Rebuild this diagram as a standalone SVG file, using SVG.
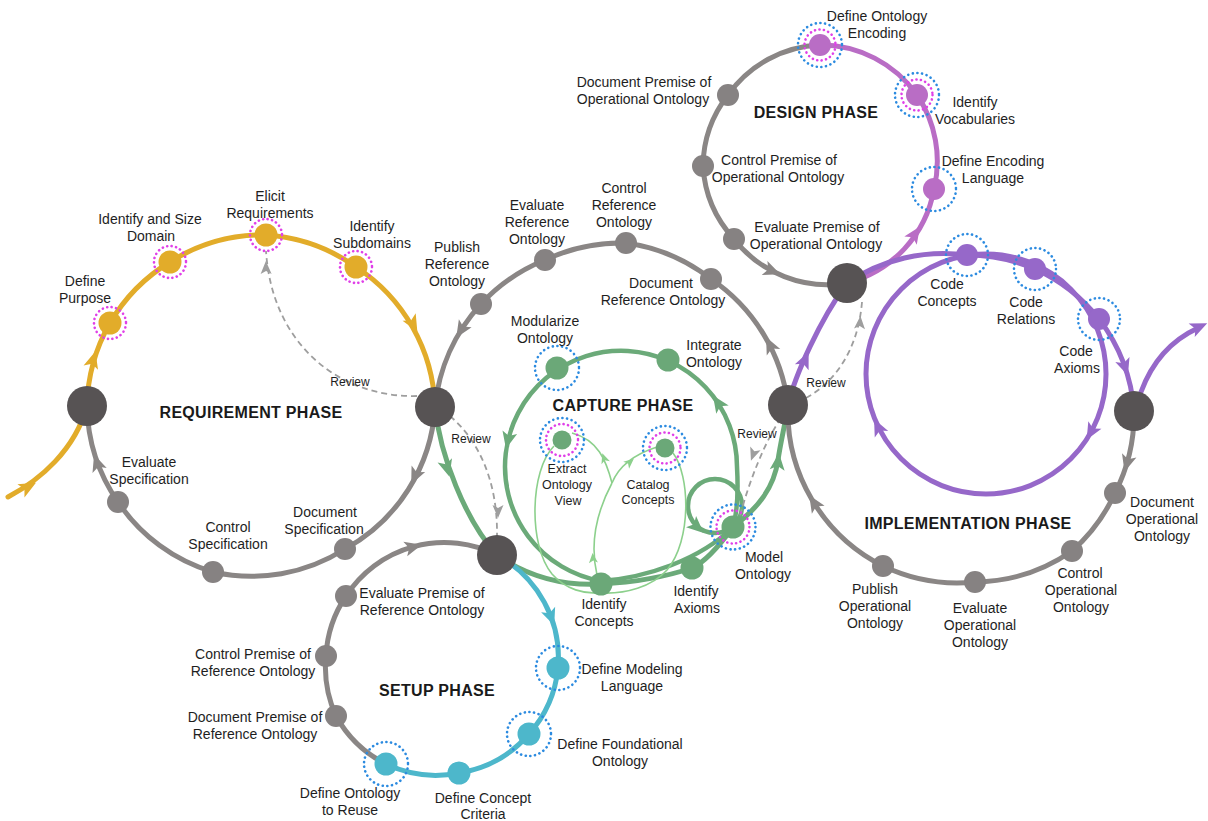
<svg xmlns="http://www.w3.org/2000/svg" xmlns:xlink="http://www.w3.org/1999/xlink" width="1208" height="821" viewBox="0 0 1208 821">
<style>
.t{font-family:"Liberation Sans",Arial,sans-serif;font-size:14px;fill:#1e1e1e;text-anchor:middle}
.ts{font-family:"Liberation Sans",Arial,sans-serif;font-size:12.5px;fill:#1e1e1e;text-anchor:middle}
.tr{font-family:"Liberation Sans",Arial,sans-serif;font-size:12px;fill:#1e1e1e;text-anchor:middle}
.ttl{font-family:"Liberation Sans",Arial,sans-serif;font-size:16px;font-weight:bold;letter-spacing:0.3px;fill:#1a1a1a;text-anchor:middle}
.ln{fill:none;stroke-width:5;stroke-linecap:round}
.ly{stroke:#E2AC2A}.lg{stroke:#8A8685}.lgr{stroke:#6BAA79}.lt{stroke:#4DB7CB}.lp{stroke:#B96DC5}.li{stroke:#9668C9}
.thin{fill:none;stroke:#8CD08C;stroke-width:1.6}
.dash{fill:none;stroke:#9E9E9E;stroke-width:1.8;stroke-dasharray:6 4}
.ay{fill:#E2AC2A}.ag{fill:#8A8685}.agr{fill:#6BAA79}.at{fill:#4DB7CB}.ap{fill:#B96DC5}.ai{fill:#9668C9}.ath{fill:#8CD08C}.ad{fill:#9E9E9E}
.big{fill:#575354}
.ng{fill:#868282}.ny{fill:#E2AC2A}.ngr{fill:#6BA878}.nt{fill:#4DB7CB}.np{fill:#B96DC5}.ni{fill:#9668C9}
.rb{fill:none;stroke:#2C8BE0;stroke-width:2.6;stroke-linecap:round;stroke-dasharray:0.1 4.6}
.rm{fill:none;stroke:#E040E8;stroke-width:2.6;stroke-linecap:round;stroke-dasharray:0.1 4.4}
</style>
<defs>
<path id="ah" d="M9,0 L-8,-7.5 L-4,0 L-8,7.5 Z"/>
<path id="ahm" d="M6,0 L-7,-5.5 L-4,0 L-7,5.5 Z"/>
<path id="ahs" d="M5,0 L-5,-4.5 L-2.5,0 L-5,4.5 Z"/>
</defs>

<g id="connectors">
  <!-- Requirement phase -->
  <path class="ln ly" d="M8,497 C40,480 75,450 87,406"/>
  <path class="ln ly" d="M87,406 A174 174 0 0 1 110,323 A174 174 0 0 1 170,262 A174 174 0 0 1 266,235 A174 174 0 0 1 356,267 A174 174 0 0 1 435,407"/>
  <path class="ln lg" d="M435,407 A174 174 0 0 1 345,549 A174 174 0 0 1 213,572 A174 174 0 0 1 118,502 A174 174 0 0 1 87,406"/>
  <!-- Reference (upper) -->
  <path class="ln lg" d="M788,405 A178 178 0 0 0 711,279 A178 178 0 0 0 626,243 A178 178 0 0 0 545,260 A178 178 0 0 0 481,304 A178 178 0 0 0 435,407"/>
  <!-- Outer green -->
  <path class="ln lgr" d="M435,407 C440,455 465,520 497,555 C530,578 565,586 601,584 C640,582 668,576 692,568 C705,562 720,545 733,527 C758,508 774,488 778,460 C781,440 785,425 788,405"/>
  <!-- Capture loop -->
  <path class="ln lgr" style="stroke-width:4.5" d="M737,467 A116 116 0 1 0 601,581 C645,578 700,560 733,527 C738,510 738,485 737,467 Z"/>
  <circle class="ln lgr" style="stroke-width:4.5" cx="715" cy="506" r="27"/>
  <!-- thin capture -->
  <path class="thin" d="M597,575 C590,545 595,515 612,483"/>
  <path class="thin" d="M612,483 C606,460 598,440 572,433"/>
  <path class="thin" d="M612,483 C618,468 632,455 657,447"/>
  <path class="thin" d="M554,446 C530,470 528,545 552,574 C566,590 585,594 600,593"/>
  <path class="thin" d="M673,453 C690,475 692,540 667,570 C652,587 625,594 602,593"/>
  <!-- Setup -->
  <path class="ln lt" d="M497,555 A117 117 0 0 1 558,668 A117 117 0 0 1 529,734 A117 117 0 0 1 459,773 A117 117 0 0 1 386,764"/>
  <path class="ln lg" d="M386,764 A117 117 0 0 1 336,716 A117 117 0 0 1 326,656 A117 117 0 0 1 346,596 A117 117 0 0 1 497,555"/>
  <!-- Design -->
  <path class="ln lp" d="M847,283 A118 118 0 0 0 934,189 A118 118 0 0 0 917,95 A118 118 0 0 0 820,45"/>
  <path class="ln lg" d="M820,45 A118 118 0 0 0 728,95 A118 118 0 0 0 703,166 A118 118 0 0 0 734,239 A118 118 0 0 0 847,283"/>
  <!-- Implementation -->
  <path class="ln lg" d="M1134,411 A173 173 0 0 1 1115,493 A173 173 0 0 1 1072,551 A173 173 0 0 1 975,582 A173 173 0 0 1 883,566 A173 173 0 0 1 788,405"/>
  <path class="ln li" d="M788,405 C795,375 820,320 847,283 A173 173 0 0 1 967,255 A173 173 0 0 1 1035,269 A173 173 0 0 1 1099,319 A173 173 0 0 1 1134,411"/>
  <circle class="ln li" cx="986" cy="374" r="120"/>
  <path class="ln li" d="M1141,392 C1152,362 1172,340 1198,328"/>
  <!-- Reviews -->
  <path class="dash" d="M417,396 C340,398 272,345 266,251"/>
  <path class="dash" d="M450,416 C478,440 498,480 497,537"/>
  <path class="dash" d="M781,418 C766,440 750,478 740,516"/>
  <path class="dash" d="M806,398 C835,382 858,350 862,302"/>
  <!-- arrowheads -->
  <use xlink:href="#ah" class="ay" transform="translate(28,487) rotate(-28)"/>
  <use xlink:href="#ah" class="ay" transform="translate(93,360) rotate(-74)"/>
  <use xlink:href="#ah" class="ay" transform="translate(413,324) rotate(61)"/>
  <use xlink:href="#ah" class="ag" transform="translate(415,476) rotate(115)"/>
  <use xlink:href="#ah" class="ag" transform="translate(97,463) rotate(-109)"/>
  <use xlink:href="#ah" class="ag" transform="translate(770,345) rotate(-116)"/>
  <use xlink:href="#ah" class="ag" transform="translate(461,330) rotate(122)"/>
  <use xlink:href="#ah" class="agr" transform="translate(447,468) rotate(74)"/>
  <use xlink:href="#ah" class="agr" transform="translate(778,462) rotate(-84)"/>
  <use xlink:href="#ah" class="agr" transform="translate(508,440) rotate(103)"/>
  <use xlink:href="#ah" class="agr" transform="translate(718,403) rotate(-124)"/>
  <use xlink:href="#ah" class="agr" transform="translate(697,527) rotate(42)"/>
  <use xlink:href="#ahs" class="ath" transform="translate(593,558) rotate(-95)"/>
  <use xlink:href="#ahs" class="ath" transform="translate(604,458) rotate(-110)"/>
  <use xlink:href="#ahs" class="ath" transform="translate(630,462) rotate(-40)"/>
  <use xlink:href="#ah" class="ag" transform="translate(413,547) rotate(-15)"/>
  <use xlink:href="#ah" class="at" transform="translate(551,617) rotate(69)"/>
  <use xlink:href="#ah" class="ap" transform="translate(915,234) rotate(-56)"/>
  <use xlink:href="#ah" class="ag" transform="translate(772,271) rotate(22)"/>
  <use xlink:href="#ah" class="ag" transform="translate(1127,463) rotate(106)"/>
  <use xlink:href="#ah" class="ag" transform="translate(814,503) rotate(-122)"/>
  <use xlink:href="#ah" class="ai" transform="translate(805,360) rotate(-66)"/>
  <use xlink:href="#ah" class="ai" transform="translate(1125,367) rotate(71)"/>
  <use xlink:href="#ah" class="ai" transform="translate(878,427) rotate(-116)"/>
  <use xlink:href="#ah" class="ai" transform="translate(1091,432) rotate(119)"/>
  <use xlink:href="#ah" class="ai" transform="translate(1199,327) rotate(-24)"/>
  <use xlink:href="#ahm" class="ad" transform="translate(266,267) rotate(-91)"/>
  <use xlink:href="#ahm" class="ad" transform="translate(498,512) rotate(90)"/>
  <use xlink:href="#ahm" class="ad" transform="translate(753,455) rotate(110)"/>
  <use xlink:href="#ahm" class="ad" transform="translate(860,322) rotate(-86)"/>
  <text class="tr" x="350" y="386">Review</text>
  <text class="tr" x="471" y="443">Review</text>
  <text class="tr" x="757" y="438">Review</text>
  <text class="tr" x="826" y="387">Review</text>
</g>

<!-- Phase titles -->
<text class="ttl" x="251" y="418">REQUIREMENT PHASE</text>
<text class="ttl" x="623" y="411">CAPTURE PHASE</text>
<text class="ttl" x="816" y="118">DESIGN PHASE</text>
<text class="ttl" x="968" y="529">IMPLEMENTATION PHASE</text>
<text class="ttl" x="437" y="696">SETUP PHASE</text>

<!-- Junction nodes -->
<g id="j-req-start"><circle class="big" cx="87" cy="406" r="20"/></g>
<g id="j-req-end"><circle class="big" cx="435" cy="407" r="20"/></g>
<g id="j-setup"><circle class="big" cx="497" cy="555" r="20"/></g>
<g id="j-capture-end"><circle class="big" cx="788" cy="405" r="20"/></g>
<g id="j-design"><circle class="big" cx="847" cy="283" r="20"/></g>
<g id="j-impl-end"><circle class="big" cx="1134" cy="411" r="20"/></g>

<!-- Requirement -->
<g id="define-purpose"><circle class="rm" cx="110" cy="323" r="16"/><circle class="ny" cx="110" cy="323" r="11.5"/><text class="t" x="85" y="286">Define</text><text class="t" x="85" y="303">Purpose</text></g>
<g id="identify-size-domain"><circle class="rm" cx="170" cy="262" r="16"/><circle class="ny" cx="170" cy="262" r="11.5"/><text class="t" x="150" y="224">Identify and Size</text><text class="t" x="151" y="241">Domain</text></g>
<g id="elicit-requirements"><circle class="rm" cx="266" cy="235" r="16"/><circle class="ny" cx="266" cy="235" r="11.5"/><text class="t" x="270" y="201">Elicit</text><text class="t" x="270" y="218">Requirements</text></g>
<g id="identify-subdomains"><circle class="rm" cx="356" cy="267" r="16"/><circle class="ny" cx="356" cy="267" r="11.5"/><text class="t" x="372" y="231">Identify</text><text class="t" x="372" y="248">Subdomains</text></g>
<g id="evaluate-specification"><circle class="ng" cx="118" cy="502" r="11"/><text class="t" x="149" y="467">Evaluate</text><text class="t" x="149" y="484">Specification</text></g>
<g id="control-specification"><circle class="ng" cx="213" cy="572" r="11"/><text class="t" x="228" y="532">Control</text><text class="t" x="228" y="549">Specification</text></g>
<g id="document-specification"><circle class="ng" cx="345" cy="549" r="11"/><text class="t" x="325" y="517">Document</text><text class="t" x="324" y="534">Specification</text></g>

<!-- Reference -->
<g id="publish-reference"><circle class="ng" cx="481" cy="304" r="11"/><text class="t" x="457" y="252">Publish</text><text class="t" x="457" y="269">Reference</text><text class="t" x="457" y="286">Ontology</text></g>
<g id="evaluate-reference"><circle class="ng" cx="545" cy="260" r="11"/><text class="t" x="537" y="210">Evaluate</text><text class="t" x="537" y="227">Reference</text><text class="t" x="537" y="244">Ontology</text></g>
<g id="control-reference"><circle class="ng" cx="626" cy="243" r="11"/><text class="t" x="624" y="193">Control</text><text class="t" x="624" y="210">Reference</text><text class="t" x="624" y="227">Ontology</text></g>
<g id="document-reference"><circle class="ng" cx="711" cy="279" r="11"/><text class="t" x="661" y="288">Document</text><text class="t" x="663" y="305">Reference Ontology</text></g>

<!-- Capture -->
<g id="modularize-ontology"><circle class="rb" cx="557" cy="368" r="22"/><circle class="ngr" cx="557" cy="368" r="11.5"/><text class="t" x="545" y="326">Modularize</text><text class="t" x="545" y="343">Ontology</text></g>
<g id="integrate-ontology"><circle class="ngr" cx="668" cy="360" r="11.5"/><text class="t" x="714" y="350">Integrate</text><text class="t" x="714" y="367">Ontology</text></g>
<g id="extract-ontology-view"><circle class="rb" cx="562" cy="440" r="22"/><circle class="rm" cx="562" cy="440" r="16"/><circle class="ngr" cx="562" cy="440" r="9.5"/><text class="ts" x="567" y="473">Extract</text><text class="ts" x="567" y="489">Ontology</text><text class="ts" x="568" y="505">View</text></g>
<g id="catalog-concepts"><circle class="rb" cx="665" cy="448" r="22"/><circle class="rm" cx="665" cy="448" r="15.5"/><circle class="ngr" cx="665" cy="448" r="9.5"/><text class="ts" x="648" y="489">Catalog</text><text class="ts" x="648" y="504">Concepts</text></g>
<g id="model-ontology"><circle class="rb" cx="733" cy="527" r="22.5"/><circle class="rm" cx="733" cy="527" r="16.5"/><circle class="ngr" cx="733" cy="527" r="11.5"/><text class="t" x="764" y="562">Model</text><text class="t" x="763" y="579">Ontology</text></g>
<g id="identify-concepts"><circle class="ngr" cx="601" cy="584" r="11.5"/><text class="t" x="604" y="609">Identify</text><text class="t" x="604" y="626">Concepts</text></g>
<g id="identify-axioms"><circle class="ngr" cx="692" cy="568" r="11.5"/><text class="t" x="696" y="596">Identify</text><text class="t" x="697" y="613">Axioms</text></g>

<!-- Design -->
<g id="define-ontology-encoding"><circle class="rb" cx="820" cy="45" r="22"/><circle class="rm" cx="820" cy="45" r="15.5"/><circle class="np" cx="820" cy="45" r="11"/><text class="t" x="877" y="21">Define Ontology</text><text class="t" x="877" y="38">Encoding</text></g>
<g id="identify-vocabularies"><circle class="rb" cx="917" cy="95" r="22"/><circle class="rm" cx="917" cy="95" r="15.5"/><circle class="np" cx="917" cy="95" r="11"/><text class="t" x="975" y="107">Identify</text><text class="t" x="975" y="124">Vocabularies</text></g>
<g id="define-encoding-language"><circle class="rb" cx="934" cy="189" r="22"/><circle class="np" cx="934" cy="189" r="11"/><text class="t" x="993" y="166">Define Encoding</text><text class="t" x="993" y="183">Language</text></g>
<g id="document-premise-operational"><circle class="ng" cx="728" cy="95" r="11"/><text class="t" x="644" y="87">Document Premise of</text><text class="t" x="643" y="104">Operational Ontology</text></g>
<g id="control-premise-operational"><circle class="ng" cx="703" cy="166" r="11"/><text class="t" x="779" y="165">Control Premise of</text><text class="t" x="778" y="182">Operational Ontology</text></g>
<g id="evaluate-premise-operational"><circle class="ng" cx="734" cy="239" r="11"/><text class="t" x="817" y="232">Evaluate Premise of</text><text class="t" x="816" y="249">Operational Ontology</text></g>

<!-- Implementation -->
<g id="code-concepts"><circle class="rb" cx="967" cy="255" r="21"/><circle class="ni" cx="967" cy="255" r="11"/><text class="t" x="947" y="289">Code</text><text class="t" x="947" y="306">Concepts</text></g>
<g id="code-relations"><circle class="rb" cx="1035" cy="269" r="21"/><circle class="ni" cx="1035" cy="269" r="11"/><text class="t" x="1026" y="307">Code</text><text class="t" x="1026" y="324">Relations</text></g>
<g id="code-axioms"><circle class="rb" cx="1099" cy="319" r="21"/><circle class="ni" cx="1099" cy="319" r="11"/><text class="t" x="1076" y="356">Code</text><text class="t" x="1077" y="373">Axioms</text></g>
<g id="document-operational"><circle class="ng" cx="1115" cy="493" r="11"/><text class="t" x="1162" y="507">Document</text><text class="t" x="1162" y="524">Operational</text><text class="t" x="1162" y="541">Ontology</text></g>
<g id="control-operational"><circle class="ng" cx="1072" cy="551" r="11"/><text class="t" x="1080" y="578">Control</text><text class="t" x="1081" y="595">Operational</text><text class="t" x="1081" y="612">Ontology</text></g>
<g id="evaluate-operational"><circle class="ng" cx="975" cy="582" r="11"/><text class="t" x="980" y="613">Evaluate</text><text class="t" x="980" y="630">Operational</text><text class="t" x="980" y="647">Ontology</text></g>
<g id="publish-operational"><circle class="ng" cx="883" cy="566" r="11"/><text class="t" x="875" y="594">Publish</text><text class="t" x="875" y="611">Operational</text><text class="t" x="875" y="628">Ontology</text></g>

<!-- Setup -->
<g id="evaluate-premise-reference"><circle class="ng" cx="346" cy="596" r="11"/><text class="t" x="422" y="598">Evaluate Premise of</text><text class="t" x="422" y="615">Reference Ontology</text></g>
<g id="control-premise-reference"><circle class="ng" cx="326" cy="656" r="11"/><text class="t" x="253" y="659">Control Premise of</text><text class="t" x="253" y="676">Reference Ontology</text></g>
<g id="document-premise-reference"><circle class="ng" cx="336" cy="716" r="11"/><text class="t" x="255" y="722">Document Premise of</text><text class="t" x="255" y="739">Reference Ontology</text></g>
<g id="define-ontology-reuse"><circle class="rb" cx="386" cy="764" r="22"/><circle class="nt" cx="386" cy="764" r="11.5"/><text class="t" x="350" y="798">Define Ontology</text><text class="t" x="350" y="815">to Reuse</text></g>
<g id="define-concept-criteria"><circle class="nt" cx="459" cy="773" r="11.5"/><text class="t" x="483" y="803">Define Concept</text><text class="t" x="483" y="819">Criteria</text></g>
<g id="define-foundational-ontology"><circle class="rb" cx="529" cy="734" r="22"/><circle class="nt" cx="529" cy="734" r="11.5"/><text class="t" x="620" y="749">Define Foundational</text><text class="t" x="620" y="766">Ontology</text></g>
<g id="define-modeling-language"><circle class="rb" cx="558" cy="668" r="22"/><circle class="nt" cx="558" cy="668" r="11.5"/><text class="t" x="632" y="674">Define Modeling</text><text class="t" x="632" y="691">Language</text></g>
</svg>
